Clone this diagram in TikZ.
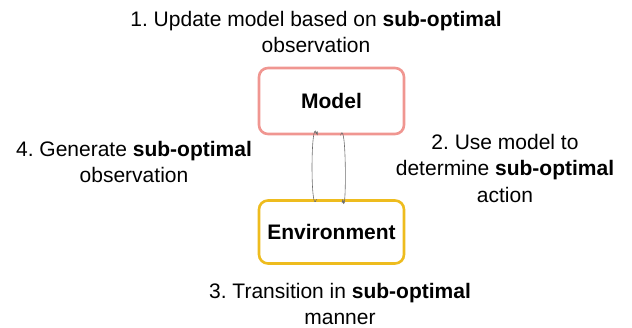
\documentclass[tikz,border=0pt]{standalone}
\usepackage{fontspec}
\setmainfont{Liberation Sans}
\usetikzlibrary{arrows.meta}
\definecolor{modelred}{RGB}{240,150,145}
\definecolor{envyellow}{RGB}{238,188,30}
\definecolor{arrowgray}{RGB}{110,110,110}
\frenchspacing
\tikzset{
  x=1pt, y=-1pt,
  box/.style={draw, line width=2.6pt, rounded corners=9pt, minimum width=145pt,
    font=\fontsize{21}{24}\selectfont\bfseries},
  caption/.style={align=center, inner sep=0pt, font=\fontsize{21}{26.5}\selectfont},
  link/.style={draw=arrowgray, line width=0.6pt, -{Stealth[length=4pt,width=3pt]}}
}
\begin{document}
\begin{tikzpicture}
\useasboundingbox (0,0) rectangle (632,328);
\node[box, draw=modelred, minimum height=66pt] (model) at (331.5,101) {Model};
\node[box, draw=envyellow, minimum height=63pt] (env) at (331.5,232) {Environment};
\draw[link] ([xshift=-15pt]env.north) .. controls ([xshift=-21pt,yshift=-20pt]env.north) and ([xshift=-21pt,yshift=20pt]model.south) .. ([xshift=-14pt]model.south);
\draw[link] ([xshift=9pt]model.south) .. controls ([xshift=15pt,yshift=20pt]model.south) and ([xshift=15pt,yshift=-20pt]env.north) .. ([xshift=11pt]env.north);
\node[caption] (t1) at (316,32) {1. Update model based on \textbf{sub-optimal}\\observation};
\node[caption] (t2) at (505,168) {2. Use model to\\determine \textbf{sub-optimal}\\action};
\node[caption] (t3) at (340,304) {3. Transition in \textbf{sub-optimal}\\manner};
\node[caption] (t4) at (134,162) {4. Generate \textbf{sub-optimal}\\observation};
\end{tikzpicture}
\end{document}
